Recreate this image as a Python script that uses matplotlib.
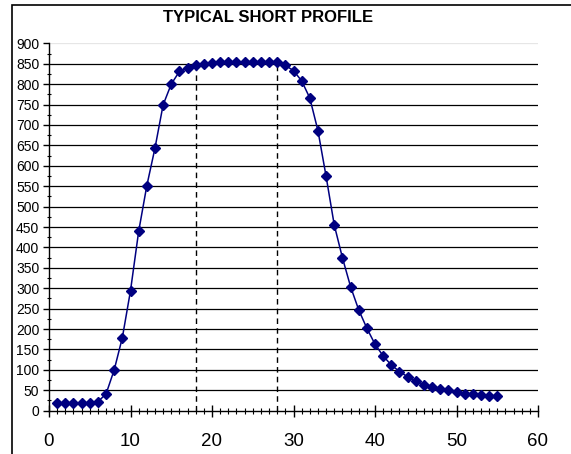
import matplotlib.pyplot as plt
import numpy as np
from matplotlib.patches import Rectangle
from matplotlib.ticker import MultipleLocator

plt.rcParams['font.family'] = ['Liberation Sans', 'DejaVu Sans']

# time steps and profile values
x_vals = list(range(1, 56))
y_vals = [19, 19, 19, 19, 19, 22, 41, 100, 179, 294,
          439, 551, 643, 749, 800, 831, 839, 847, 850, 852,
          853, 853, 853, 853, 853, 853, 853, 853, 846, 833,
          808, 766, 686, 574, 455, 375, 304, 247, 202, 163,
          134, 112, 96, 83, 73, 64, 58, 54, 51, 47,
          41, 41, 39, 36, 36]
marker_x = [18, 28]
title = 'TYPICAL SHORT PROFILE'

fig = plt.figure(figsize=(5.71, 4.54), dpi=100)
ax = fig.add_axes([49 / 571, 1 - 410.7 / 454, (538 - 49) / 571, (410.7 - 43.3) / 454])

# chart frame (extends past the image on the right/bottom)
fig.patches.append(Rectangle((12 / 571, -0.1), 1.2, 1 - 5.3 / 454 + 0.1,
                             transform=fig.transFigure, fill=False,
                             edgecolor='black', linewidth=1.2))

ax.plot(x_vals, y_vals, color='#000080', linewidth=1.1, marker='D',
        markersize=5.5, markerfacecolor='#000080', markeredgecolor='#000080',
        zorder=4)

for xv in marker_x:
    ax.vlines(xv, 0, y_vals[x_vals.index(xv)], colors='black',
              linestyles=(0, (4, 3)), linewidth=1.0, zorder=3)

ax.set_xlim(0, 60)
ax.set_ylim(0, 900)
ax.xaxis.set_major_locator(MultipleLocator(10))
ax.xaxis.set_minor_locator(MultipleLocator(1))
ax.yaxis.set_major_locator(MultipleLocator(50))
ax.yaxis.set_minor_locator(MultipleLocator(25))

for yv in range(50, 900, 50):
    ax.axhline(yv, color='black', linewidth=0.9, zorder=1)
ax.axhline(900, color='#e6e6e6', linewidth=0.9, zorder=1)

for s in ['top', 'right']:
    ax.spines[s].set_visible(False)
ax.spines['left'].set_linewidth(1.0)
ax.spines['bottom'].set_linewidth(1.0)

ax.tick_params(axis='x', which='major', direction='inout', length=8,
               width=1.0, labelsize=13.5, pad=12)
ax.tick_params(axis='x', which='minor', direction='inout', length=4, width=0.8)
ax.tick_params(axis='y', which='major', direction='out', length=4,
               width=1.0, labelsize=10, pad=3)
ax.tick_params(axis='y', which='minor', direction='inout', length=3, width=0.8)

fig.text(268 / 571, 1 - 18 / 454, title, ha='center', va='center',
         fontsize=12, fontweight='bold')

fig.savefig('out.png', dpi=100)
